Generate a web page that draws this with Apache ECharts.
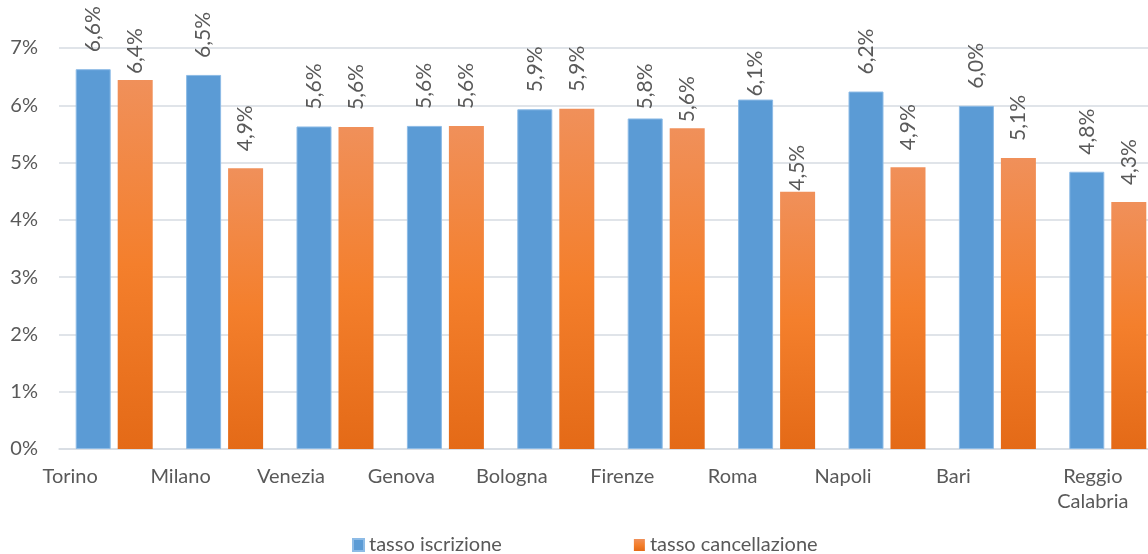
<!DOCTYPE html>
<html>
<head>
<meta charset="utf-8">
<script src="https://cdn.jsdelivr.net/npm/echarts@6/dist/echarts.min.js"></script>
<style>
  html, body { margin: 0; padding: 0; background: #fff; overflow: hidden; }
  /* the original plot runs past the right edge of the picture */
  #chart { width: 1163px; height: 554px; }
</style>
</head>
<body>
<div id="chart"></div>
<script>
var cities = ['Torino', 'Milano', 'Venezia', 'Genova', 'Bologna', 'Firenze', 'Roma', 'Napoli', 'Bari', 'Reggio\nCalabria']
var iscrizione = [6.63, 6.53, 5.63, 5.64, 5.93, 5.77, 6.10, 6.24, 5.99, 4.84]
var cancellazione = [6.44, 4.90, 5.62, 5.64, 5.94, 5.60, 4.49, 4.92, 5.08, 4.31]
var yTicks = [0, 7, 1] // min, max, step

var txt = '#595959'
var font = 'Lato'

// some labels in the original sit closer to the bar
var gapIscr = { 5: 9, 6: 3 }
var gapCanc = { 0: 6, 5: 6, 6: 1 }

function pct (v) {
  return v.toFixed(1).replace('.', ',') + '%'
}

function withGaps (arr, gaps) {
  return arr.map(function (v, i) {
    if (gaps[i] !== undefined) return { value: v, label: { distance: gaps[i] } }
    return v
  })
}

var barLabel = {
  show: true,
  position: 'top',
  rotate: 90,
  align: 'left',
  verticalAlign: 'middle',
  distance: 17,
  color: txt,
  fontFamily: font,
  fontSize: 21,
  formatter: function (p) { return pct(p.value) }
}

var myChart = echarts.init(document.getElementById('chart'))
myChart.setOption({
  animation: false,
  textStyle: { fontFamily: font },
  grid: {
    left: 59,
    top: 48,
    right: 0,
    bottom: 105
  },
  legend: {
    left: 352,
    top: 535,
    padding: 0,
    itemWidth: 11,
    itemHeight: 12,
    itemGap: 132,
    icon: 'rect',
    textStyle: { color: txt, fontSize: 20, fontFamily: font },
    data: ['tasso iscrizione', 'tasso cancellazione']
  },
  xAxis: {
    type: 'category',
    data: cities,
    axisTick: { show: false },
    axisLine: { lineStyle: { color: '#d6dbe2', width: 1.5 } },
    axisLabel: {
      interval: 0,
      margin: 15,
      color: txt,
      fontSize: 20,
      fontFamily: font,
      lineHeight: 25,
      formatter: function (v) {
        if (v.indexOf('\n') >= 0) {
          return v.split('\n').map(function (s) { return '{b|' + s + '}' }).join('\n')
        }
        return '{a|' + v + '}'
      },
      rich: {
        a: { padding: [0, 88, 0, 0], fontSize: 20, color: txt, fontFamily: font },
        b: { padding: [0, 30, 0, 0], fontSize: 20, color: txt, fontFamily: font, lineHeight: 25 }
      }
    }
  },
  yAxis: {
    type: 'value',
    min: yTicks[0],
    max: yTicks[1],
    interval: yTicks[2],
    axisLine: { show: false },
    axisTick: { show: false },
    axisLabel: {
      margin: 21,
      color: txt,
      fontSize: 20,
      fontFamily: font,
      formatter: '{value}%'
    },
    splitLine: { lineStyle: { color: '#d6dbe2', width: 1.5 } }
  },
  series: [
    {
      name: 'tasso iscrizione',
      type: 'bar',
      barWidth: 35,
      barGap: '20%',
      itemStyle: {
        color: '#5b9bd5',
        borderColor: '#8dbbe6',
        borderWidth: 1
      },
      label: barLabel,
      data: withGaps(iscrizione, gapIscr)
    },
    {
      name: 'tasso cancellazione',
      type: 'bar',
      barWidth: 35,
      itemStyle: {
        color: new echarts.graphic.LinearGradient(0, 0, 0, 1, [
          { offset: 0, color: '#f0905a' },
          { offset: 0.5, color: '#f47f2c' },
          { offset: 1, color: '#e46a17' }
        ])
      },
      label: barLabel,
      data: withGaps(cancellazione, gapCanc)
    }
  ]
})
</script>
</body>
</html>
